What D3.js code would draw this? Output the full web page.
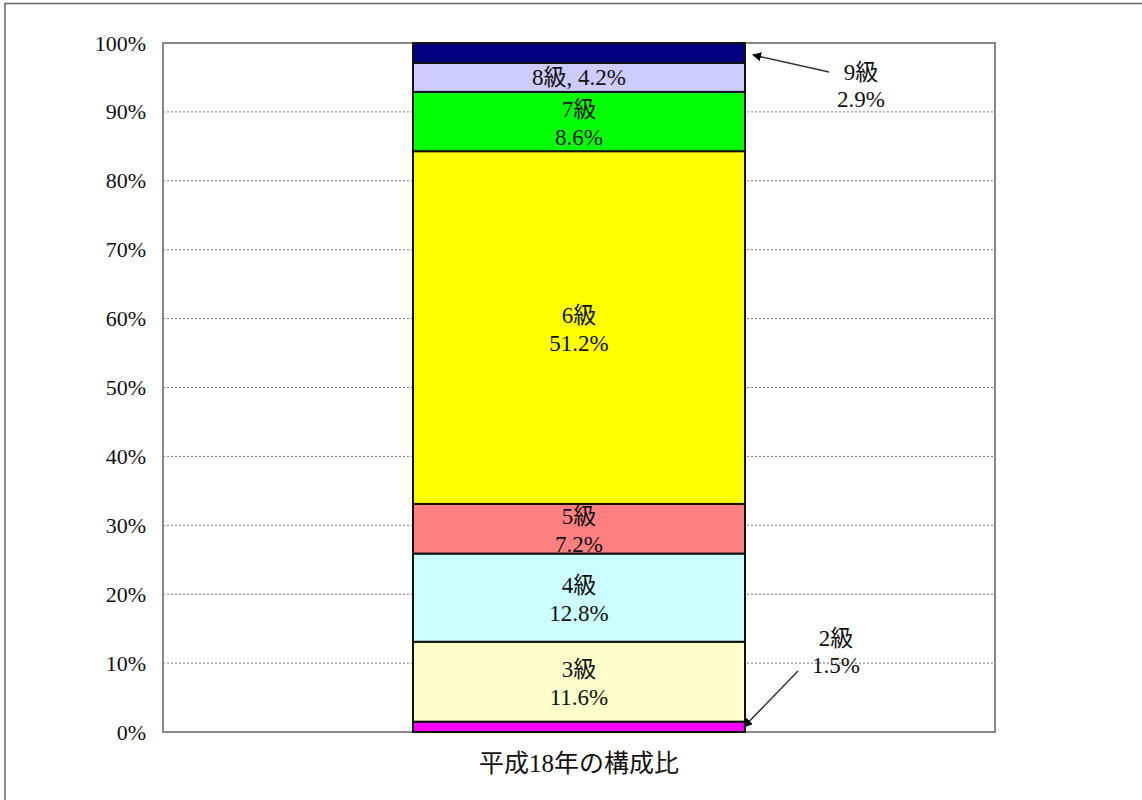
<!DOCTYPE html>
<html><head><meta charset="utf-8">
<script src="https://cdn.jsdelivr.net/npm/d3@7"></script>
<style>body{margin:0;background:#fff}svg{display:block}</style>
</head><body><svg id="c" width="1142" height="800"></svg>
<script>
const categories = ["2級","3級","4級","5級","6級","7級","8級","9級"];
const values = [1.5, 11.6, 12.8, 7.2, 51.2, 8.6, 4.2, 2.9];
const colors = ["#FF00FF","#FFFFCC","#CCFFFF","#FF8080","#FFFF00","#00FF00","#CCCCFF","#000080"];
const xCategory = ["平成18年の構成比"];
const yTicks = [0,10,20,30,40,50,60,70,80,90,100];

const svg = d3.select("#c");
const font = "'Liberation Serif','Noto Sans CJK JP',serif";
const L=163, T=43, R=995, B=732;

// outer frame
svg.append("path").attr("d","M5,800 V3.5 H1142").attr("fill","none").attr("stroke","#666").attr("stroke-width",1.5);

const y = d3.scaleLinear().domain([0,100]).range([B,T]);
const x = d3.scaleBand().domain(xCategory).range([L,R]).paddingInner(0).paddingOuter(0.753);

// gridlines
svg.append("g").selectAll("line").data(yTicks.filter(d=>d>0&&d<100)).join("line")
  .attr("x1",L).attr("x2",R).attr("y1",d=>y(d)).attr("y2",d=>y(d))
  .attr("stroke","#555").attr("stroke-width",0.8).attr("stroke-dasharray","2,2");

// plot border
svg.append("rect").attr("x",L).attr("y",T).attr("width",R-L).attr("height",B-T)
  .attr("fill","none").attr("stroke","#888").attr("stroke-width",2);

// y axis labels
const yAxis = d3.axisLeft(y).tickValues(yTicks).tickFormat(d=>d+"%").tickSize(0).tickPadding(17);
const ga = svg.append("g").attr("transform",`translate(${L},0)`).call(yAxis);
ga.select(".domain").remove();
ga.selectAll("text").attr("font-family",font).attr("font-size",22).attr("fill","#111");

// stacked data
let cum=0;
const stack = values.map((v,i)=>{const s={cat:categories[i],v,y0:cum,y1:cum+v,color:colors[i]};cum+=v;return s;});
const bandX = x(xCategory[0]);
const barW = x.bandwidth();
svg.append("g").selectAll("rect").data(stack).join("rect")
  .attr("x",bandX).attr("width",barW)
  .attr("y",d=>y(d.y1)).attr("height",d=>y(d.y0)-y(d.y1))
  .attr("fill",d=>d.color).attr("stroke","#111").attr("stroke-width",2);

const cx = bandX+barW/2;
const lab = svg.append("g").attr("font-family",font).attr("font-size",23).attr("fill","#111").attr("text-anchor","middle");
stack.forEach(d=>{
  const mid=(y(d.y0)+y(d.y1))/2;
  if(d.cat==="8級"){
    lab.append("text").attr("x",cx).attr("y",mid+8).text(`${d.cat}, ${d.v.toFixed(1)}%`);
  } else if(d.cat==="2級"||d.cat==="9級"){
    // external labels
  } else {
    lab.append("text").attr("x",cx).attr("y",mid-5).text(d.cat);
    lab.append("text").attr("x",cx).attr("y",mid+23).text(d.v.toFixed(1)+"%");
  }
});

// arrow marker
svg.append("defs").append("marker").attr("id","ah").attr("viewBox","0 0 10 10").attr("refX",9).attr("refY",5)
  .attr("markerWidth",6).attr("markerHeight",6).attr("orient","auto")
  .append("path").attr("d","M0,0 L10,5 L0,10 Z").attr("fill","#000");

const s9 = stack[7], s2 = stack[0];
const bandR = bandX+barW;
// 9級 external
svg.append("line").attr("x1",829).attr("y1",72).attr("x2",bandR+8).attr("y2",(y(s9.y0)+y(s9.y1))/2+2)
  .attr("stroke","#333").attr("stroke-width",1.5).attr("marker-end","url(#ah)");
lab.append("text").attr("x",861).attr("y",80).text(s9.cat);
lab.append("text").attr("x",861).attr("y",107).text(s9.v.toFixed(1)+"%");

// 2級 external
svg.append("line").attr("x1",798).attr("y1",671).attr("x2",bandR-1).attr("y2",(y(s2.y0)+y(s2.y1))/2)
  .attr("stroke","#333").attr("stroke-width",1.5).attr("marker-end","url(#ah)");
lab.append("text").attr("x",836).attr("y",646).text(s2.cat);
lab.append("text").attr("x",836).attr("y",673).text(s2.v.toFixed(1)+"%");

// x label
const xAxis = d3.axisBottom(x).tickSize(0).tickPadding(22);
const gx = svg.append("g").attr("transform",`translate(0,${B})`).call(xAxis);
gx.select(".domain").remove();
gx.selectAll("text").attr("font-family",font).attr("font-size",25).attr("fill","#111");
</script></body></html>
